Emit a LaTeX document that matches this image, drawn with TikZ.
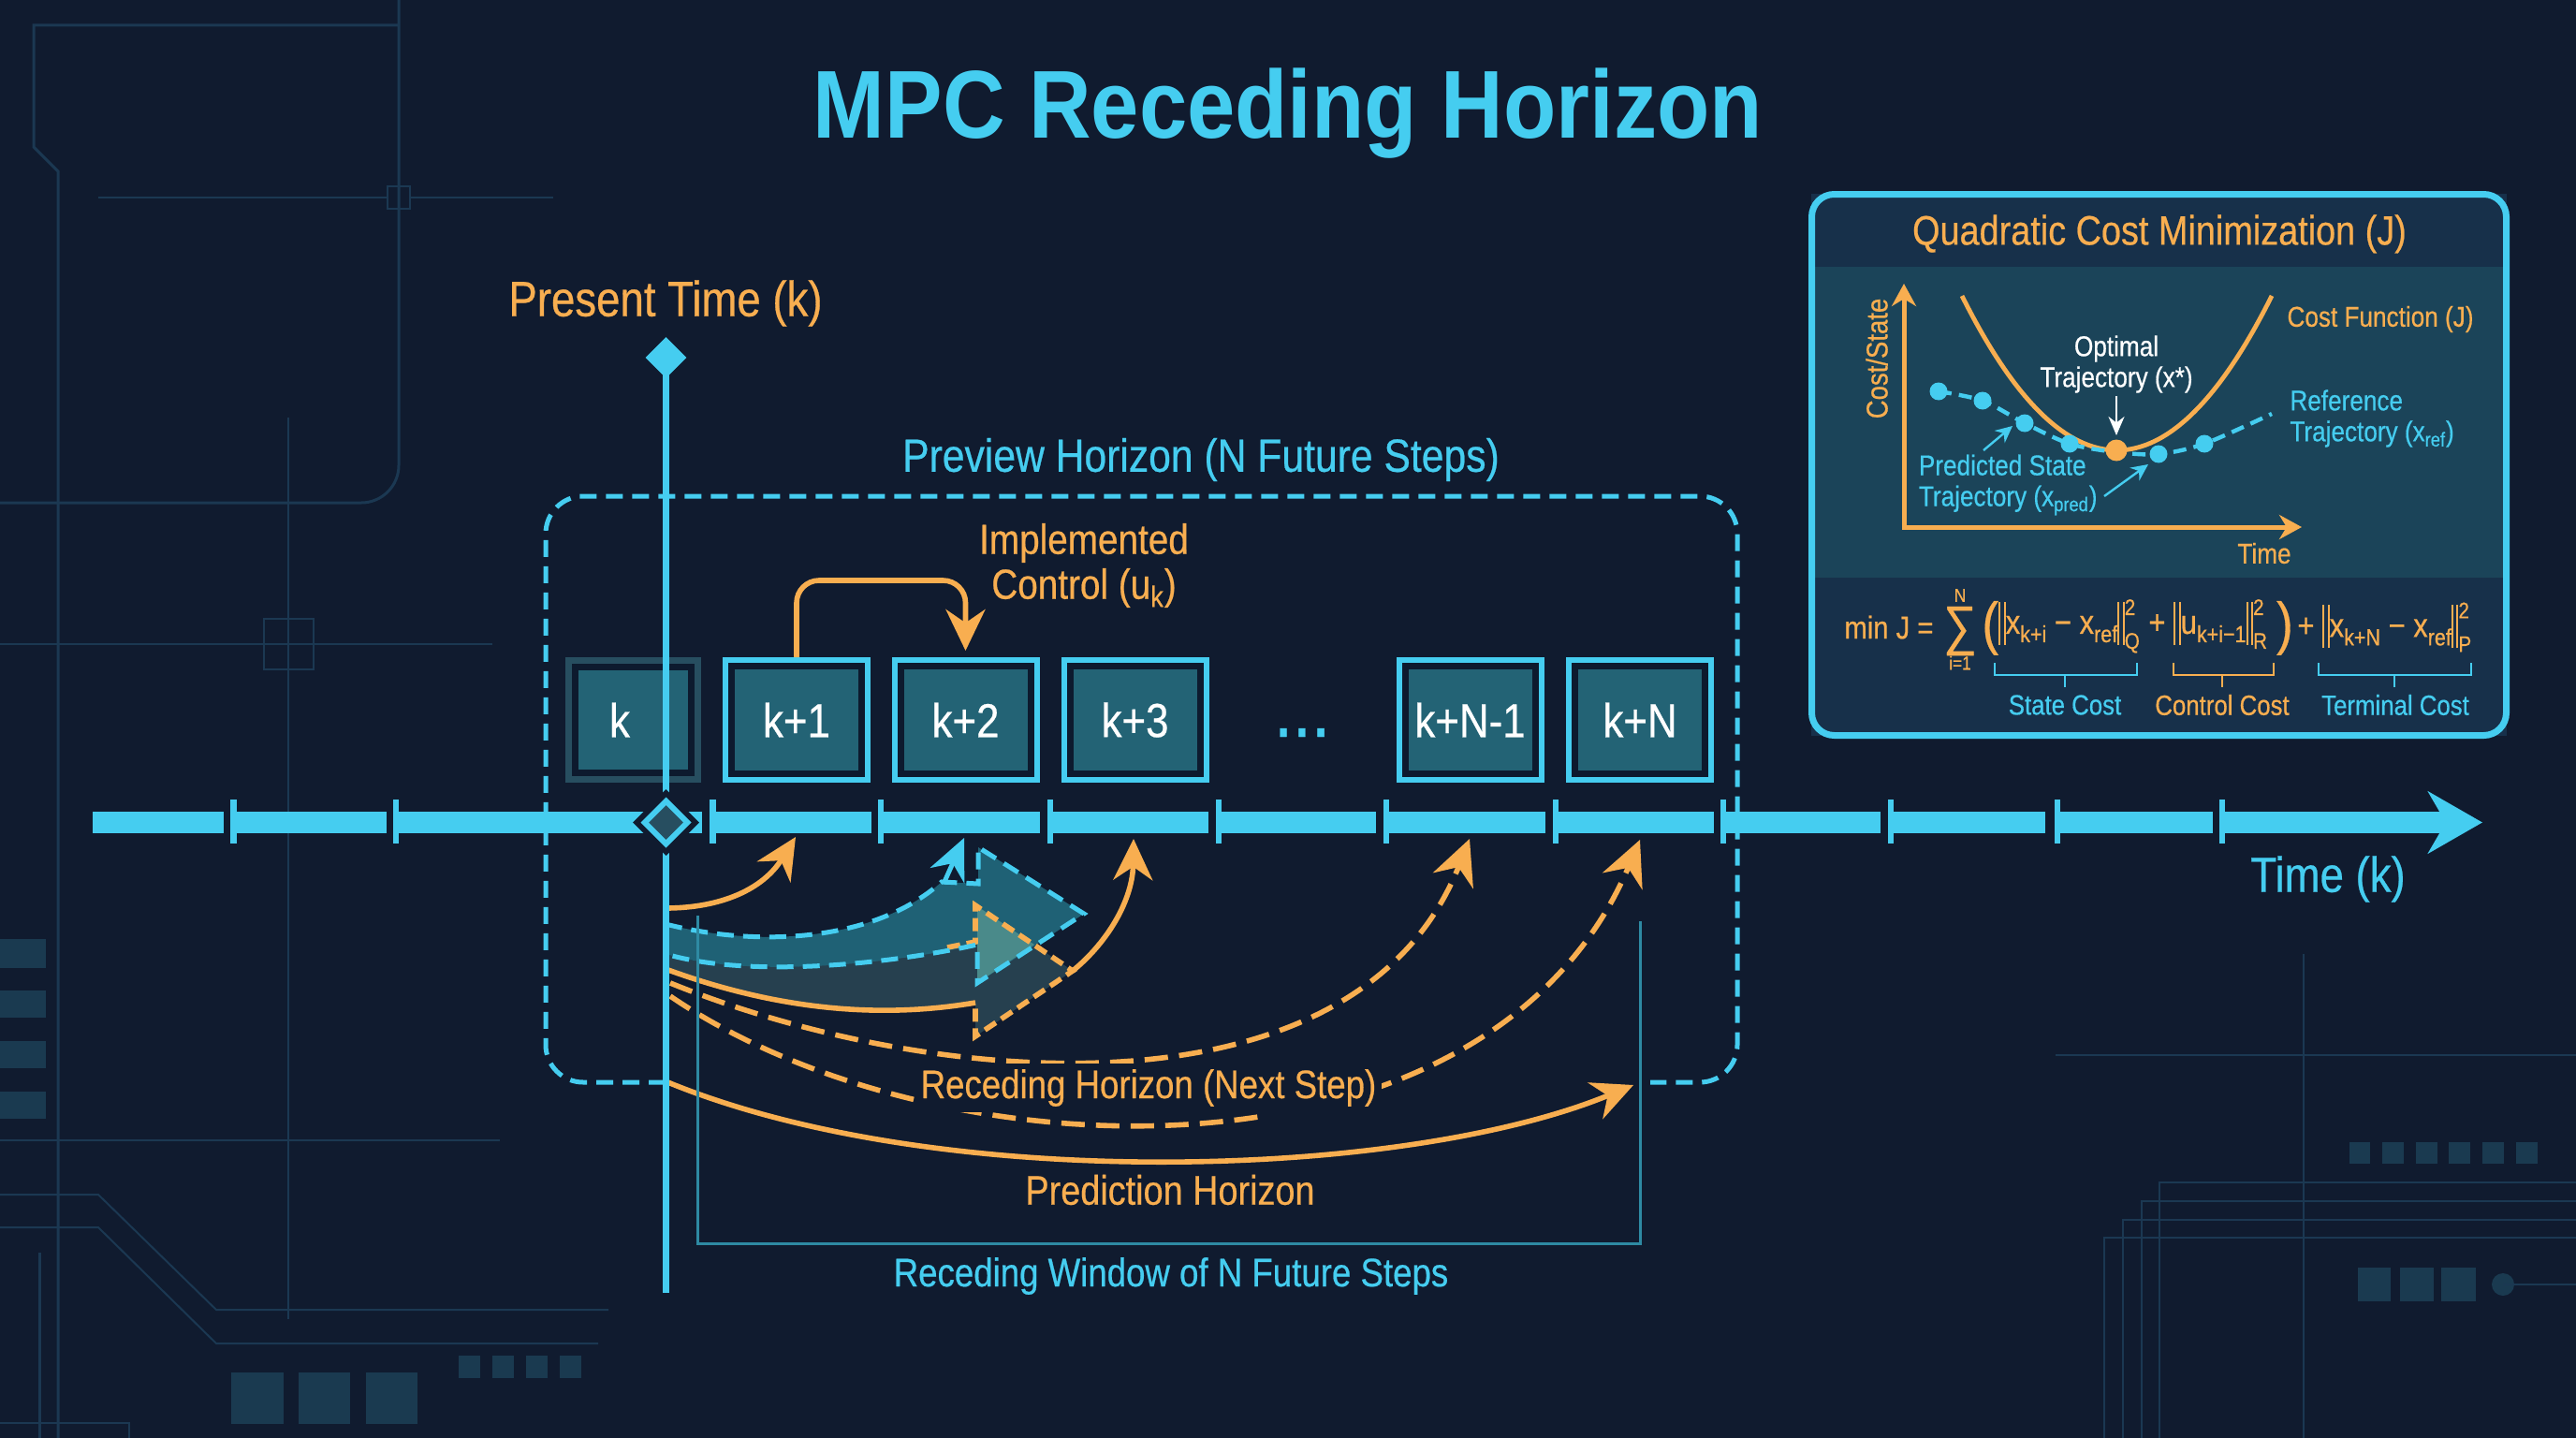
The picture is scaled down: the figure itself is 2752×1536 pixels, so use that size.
\documentclass[tikz,border=0pt]{standalone}
\usepackage{fontspec}
\setmainfont{Liberation Sans}[FakeStretch=0.86,FakeBold=0.5]
\newfontfamily\titlefont{Liberation Sans}[FakeStretch=0.895,UprightFont=* Bold]
\usetikzlibrary{arrows.meta,shapes.geometric}
\definecolor{bgmain}{HTML}{101B2F}
\definecolor{bgline}{HTML}{1B3852}
\definecolor{bgblock}{HTML}{1A3A50}
\definecolor{ringdark}{HTML}{0D1A2E}
\definecolor{skycyan}{HTML}{45CDF0}
\definecolor{amber}{HTML}{F8AE50}
\definecolor{tealline}{HTML}{2E8AA3}
\definecolor{boxfill}{HTML}{236375}
\definecolor{boxfade}{HTML}{274E60}
\definecolor{panelfill}{HTML}{17304A}
\definecolor{panelband}{HTML}{1B4459}
\definecolor{fatteal}{HTML}{21697D}
\definecolor{fatslate}{HTML}{26404F}
\definecolor{fatmix}{HTML}{4A8A8A}
\newcommand{\fsub}[1]{\raisebox{-4.5pt}{\fontsize{12.5pt}{13pt}\selectfont #1}}
\newcommand{\fbars}{\rule[-6pt]{1.1pt}{23pt}\hspace{1.6pt}\rule[-6pt]{1.1pt}{23pt}}
\newcommand{\fscr}[2]{\rlap{\raisebox{10pt}{\fontsize{12pt}{13pt}\selectfont #1}}\raisebox{-8pt}{\fontsize{12pt}{13pt}\selectfont #2}}
\newcommand{\fparen}[1]{\raisebox{-5pt}{\fontsize{31pt}{31pt}\selectfont #1}}
\tikzset{
  bgpath/.style={draw=bgline,line width=1pt},
  bgblockfill/.style={fill=bgblock},
  timebar/.style={fill=skycyan},
  stepbox/.style={rectangle,minimum width=69.5pt,minimum height=57.5pt,inner sep=0pt,outer sep=4.75pt,
    fill=boxfill,draw=ringdark,line width=3.5pt,text=white,font=\fontsize{25.5pt}{30pt}\selectfont,
    preaction={draw=skycyan,line width=9.5pt}},
  stepboxold/.style={rectangle,minimum width=62pt,minimum height=56.5pt,inner sep=0pt,
    fill=boxfill,draw=ringdark,line width=3.5pt,preaction={draw=boxfade,line width=10.5pt}},
  cyantext/.style={text=skycyan,font=\fontsize{24.8pt}{30pt}\selectfont},
  ambertext/.style={text=amber,font=\fontsize{25pt}{30pt}\selectfont},
  cyansmall/.style={text=skycyan,font=\fontsize{15.2pt}{16.5pt}\selectfont,inner sep=0pt},
  ambersmall/.style={text=amber,font=\fontsize{15.2pt}{16.5pt}\selectfont,inner sep=0pt},
  whitesmall/.style={text=white,font=\fontsize{15.2pt}{16.5pt}\selectfont,inner sep=0pt},
  formula/.style={text=amber,font=\fontsize{18pt}{20pt}\selectfont,inner sep=0pt,anchor=west},
  costdot/.style={circle,fill=skycyan,minimum size=9.5pt,inner sep=0pt},
  amberarrow/.style={draw=amber,line width=2.8pt,-{Stealth[length=22pt,width=21pt]}},
  amberdasharrow/.style={draw=amber,line width=2.8pt,dash pattern=on 12.5pt off 6pt,-{Stealth[length=24pt,width=23pt]}},
  amberdash/.style={draw=amber,line width=2.8pt,dash pattern=on 7pt off 3.5pt},
  cyandash/.style={draw=skycyan,line width=2.5pt,dash pattern=on 9pt off 5pt},
  windowline/.style={draw=tealline,line width=1.5pt},
  thinbracket/.style={line width=1.3pt},
}
\begin{document}
\begin{tikzpicture}[x=0.5pt,y=-0.5pt]
\useasboundingbox (0,0) rectangle (2752,1536);
\fill[bgmain] (0,0) rectangle (2752,1536);
\draw[bgpath,line width=1.5pt] (426,27) -- (36,27) -- (36,157) -- (62,183) -- (62,1536);
\draw[bgpath,line width=1.5pt,rounded corners=20pt] (426,0) -- (426,537) -- (0,537);
\draw[bgpath] (105,211) -- (414,211);
\draw[bgpath] (438,211) -- (591,211);
\draw[bgpath] (414,199) rectangle (438,223);
\draw[bgpath] (308,446) -- (308,1409);
\draw[bgpath] (0,688) -- (526,688);
\draw[bgpath] (282,661) rectangle (335,715);
\draw[bgpath] (0,1218) -- (534,1218);
\draw[bgpath] (0,1276) -- (105,1276) -- (231,1399) -- (650,1399);
\draw[bgpath] (0,1311) -- (105,1311) -- (231,1435) -- (639,1435);
\draw[bgpath,line width=1.5pt] (42,1338) -- (42,1536);
\draw[bgpath] (0,1520) -- (138,1520) -- (138,1536);
\fill[bgblockfill] (0,1003) rectangle (49,1034);
\fill[bgblockfill] (0,1058) rectangle (49,1087);
\fill[bgblockfill] (0,1112) rectangle (49,1141);
\fill[bgblockfill] (0,1166) rectangle (49,1195);
\fill[bgblockfill] (247,1466) rectangle (303,1521);
\fill[bgblockfill] (319,1466) rectangle (374,1521);
\fill[bgblockfill] (391,1466) rectangle (446,1521);
\fill[bgblockfill] (490,1448) rectangle (513,1472);
\fill[bgblockfill] (526,1448) rectangle (549,1472);
\fill[bgblockfill] (562,1448) rectangle (585,1472);
\fill[bgblockfill] (598,1448) rectangle (621,1472);
\draw[bgpath] (2461,1019) -- (2461,1536);
\draw[bgpath] (2196,1127) -- (2752,1127);
\draw[bgpath] (2307,1536) -- (2307,1263) -- (2752,1263);
\draw[bgpath] (2288,1536) -- (2288,1283) -- (2752,1283);
\draw[bgpath] (2268,1536) -- (2268,1303) -- (2752,1303);
\draw[bgpath] (2248,1536) -- (2248,1322) -- (2752,1322);
\fill[bgblockfill] (2510,1220) rectangle (2532,1243);
\fill[bgblockfill] (2545,1220) rectangle (2568,1243);
\fill[bgblockfill] (2581,1220) rectangle (2604,1243);
\fill[bgblockfill] (2616,1220) rectangle (2639,1243);
\fill[bgblockfill] (2652,1220) rectangle (2675,1243);
\fill[bgblockfill] (2688,1220) rectangle (2711,1243);
\fill[bgblockfill] (2519,1354) rectangle (2554,1390);
\fill[bgblockfill] (2564,1354) rectangle (2600,1390);
\fill[bgblockfill] (2608,1354) rectangle (2645,1390);
\fill[bgblockfill] (2674,1372) circle (12);
\draw[bgpath] (2674,1372) -- (2752,1372);

\node (title) at (1376,121) [text=skycyan,font=\titlefont\fontsize{51.5pt}{60pt}\selectfont] {MPC Receding Horizon};
\node (presentlabel) at (711,324) [ambertext,font=\fontsize{26.5pt}{30pt}\selectfont] {Present Time (k)};
\node (previewlabel) at (1283,491) [cyantext] {Preview Horizon (N Future Steps)};
\node (ctrllabel) at (1158,604) [ambertext,align=center,font=\fontsize{22.5pt}{24pt}\selectfont] {Implemented\\Control (u\textsubscript{k})};

\coordinate (pvstart) at (711,1156);
\coordinate (pvtl) at (583,530);
\coordinate (pvbr) at (1856,1156);
\coordinate (pvend) at (1763,1156);
\draw[cyandash,rounded corners=20pt] (pvstart) -| (pvtl) -| (pvbr) -- (pvend);

\node (k0) at (676.5,769) [stepboxold] {};
\node (k1) at (851,769) [stepbox] {k+1};
\node (k2) at (1031.5,769) [stepbox] {k+2};
\node (k3) at (1212.5,769) [stepbox] {k+3};
\node (kdots) at (1391,787) [anchor=base,text=skycyan,font=\fontsize{42pt}{48pt}\selectfont] {...};
\node (kn1) at (1570.5,769) [stepbox] {k+N-1};
\node (kn) at (1752,769) [stepbox] {k+N};
\node (k0text) at (662,769) [text=white,font=\fontsize{25.5pt}{30pt}\selectfont] {k};

\coordinate (ctrltop) at (950,620);
\draw[amberarrow,rounded corners=12pt,shorten >=3.5pt] (k1.north) |- (k2.north |- ctrltop) -- (k2.north);

\fill[timebar] (99,867) rectangle (239,890);
\fill[timebar] (246,854) rectangle (253,901);
\fill[timebar] (253,867) rectangle (413,890);
\fill[timebar] (420,854) rectangle (426,901);
\fill[timebar] (426,867) rectangle (700,890);
\fill[timebar] (725,867) rectangle (750,890);
\fill[timebar] (758,854) rectangle (765,901);
\fill[timebar] (765,867) rectangle (931,890);
\fill[timebar] (938,854) rectangle (944,901);
\fill[timebar] (944,867) rectangle (1111,890);
\fill[timebar] (1119,854) rectangle (1125,901);
\fill[timebar] (1125,867) rectangle (1291,890);
\fill[timebar] (1299,854) rectangle (1305,901);
\fill[timebar] (1305,867) rectangle (1470,890);
\fill[timebar] (1478,854) rectangle (1484,901);
\fill[timebar] (1484,867) rectangle (1651,890);
\fill[timebar] (1659,854) rectangle (1665,901);
\fill[timebar] (1665,867) rectangle (1831,890);
\fill[timebar] (1838,854) rectangle (1844,901);
\fill[timebar] (1844,867) rectangle (2009,890);
\fill[timebar] (2017,854) rectangle (2023,901);
\fill[timebar] (2023,867) rectangle (2185,890);
\fill[timebar] (2195,854) rectangle (2201,901);
\fill[timebar] (2201,867) rectangle (2364,890);
\fill[timebar] (2371,854) rectangle (2377,901);
\coordinate (timestart) at (2377,878.5);
\coordinate (timeend) at (2652,878.5);
\draw[draw=skycyan,line width=11.5pt,-{Stealth[length=29pt,width=33pt]}] (timestart) -- (timeend);
\node (timelabel) at (2487,939) [text=skycyan,font=\fontsize{26.5pt}{30pt}\selectfont] {Time (k)};

\fill[fatslate] (711,1019) .. controls (800,1045) and (950,1030) .. (1042,1006) -- (1042,967) -- (1146,1037) -- (1042,1107) -- (1042,1071) .. controls (930,1090) and (820,1075) .. (711,1035) -- cycle;
\fill[fatteal,opacity=0.9] (711,987) .. controls (800,1010) and (930,1010) .. (1006,942) -- (1045,944) -- (1045,905) -- (1158,976) -- (1044,1050) -- (1044,1009) .. controls (950,1030) and (800,1045) .. (711,1019) -- cycle;
\fill[fatmix] (1044,968) -- (1105,1009) -- (1044,1050) -- cycle;
\draw[amberdash] (1012,1012) -- (1042,1006) -- (1042,967) -- (1146,1037) -- (1042,1107) -- (1042,1071);
\draw[draw=amber,line width=2.8pt] (1042,1071) .. controls (930,1090) and (820,1075) .. (711,1035);
\draw[cyandash] (711,987) .. controls (800,1010) and (930,1010) .. (1006,942) -- (1045,944) -- (1045,905) -- (1158,976) -- (1044,1050) -- (1044,1009) .. controls (950,1030) and (800,1045) .. (711,1019);

\coordinate (arrowk1s) at (711,970);
\coordinate (arrowk1e) at (850,894);
\coordinate (arrowk2s) at (1008,944);
\coordinate (arrowk2e) at (1030,895);
\coordinate (arrowk3s) at (1146,1037);
\coordinate (arrowk3e) at (1211,896);
\coordinate (arrowkn1s) at (716,1050);
\coordinate (arrowkn1e) at (1570,896);
\coordinate (arrowkns) at (716,1064);
\coordinate (arrowkne) at (1752,897);
\coordinate (predicts) at (711,1155);
\coordinate (predicte) at (1745,1159);
\draw[amberarrow] (arrowk1s) .. controls (770,970) and (815,950) .. (arrowk1e);
\draw[draw=skycyan,line width=2.5pt,-{Stealth[length=22pt,width=20pt]}] (arrowk2s) -- (arrowk2e);
\draw[amberarrow] (arrowk3s) .. controls (1185,1005) and (1210,960) .. (arrowk3e);
\draw[amberdasharrow] (arrowkn1s) .. controls (1000,1165) and (1450,1200) .. (arrowkn1e);
\draw[amberdasharrow] (arrowkns) .. controls (1000,1258) and (1590,1280) .. (arrowkne);
\fill[bgmain] (1350,1180) rectangle (1480,1220);
\draw[amberarrow] (predicts) .. controls (1000,1275) and (1500,1260) .. (predicte);

\coordinate (windowl) at (745,978);
\coordinate (windowr) at (1752,984);
\coordinate (windowb) at (1000,1328);
\draw[windowline] (windowl) |- (windowb) -| (windowr);

\node (recedlabel) at (1227,1162) [ambertext,fill=bgmain,inner sep=3pt,font=\fontsize{21.3pt}{26pt}\selectfont] {Receding Horizon (Next Step)};
\node (predlabel) at (1250,1271) [ambertext,font=\fontsize{22pt}{26pt}\selectfont] {Prediction Horizon};
\node (windowlabel) at (1251,1363) [cyantext,font=\fontsize{21.3pt}{26pt}\selectfont] {Receding Window of N Future Steps};

\coordinate (nowtop) at (711.5,382);
\coordinate (nowbottom) at (711.5,1381);
\draw[draw=skycyan,line width=3.5pt] (nowtop) -- (nowbottom);
\node (nowtopmark) at (nowtop) [diamond,fill=skycyan,minimum width=22pt,minimum height=22pt,inner sep=0pt] {};
\node (nowmark) at (711.5,878.5) [diamond,fill=boxfade,draw=skycyan,line width=3pt,minimum width=24pt,minimum height=24pt,inner sep=0pt,preaction={draw=bgmain,line width=9pt}] {};

\fill[panelfill] (1935,207) rectangle (2678,786);
\fill[panelband] (1938,285) rectangle (2675,617);
\draw[draw=skycyan,line width=3.5pt,rounded corners=12pt] (1935.5,207.5) rectangle (2677.5,785.5);
\node (costtitle) at (2307,250) [ambertext,font=\fontsize{22pt}{26pt}\selectfont] {Quadratic Cost Minimization (J)};

\coordinate (axisorigin) at (2034,563);
\coordinate (axistop) at (2034,303);
\coordinate (axisright) at (2459,563);
\draw[draw=amber,line width=2.5pt,{Stealth[length=12pt,width=13pt]}-{Stealth[length=12pt,width=13pt]}] (axistop) -- (axisorigin) -- (axisright);
\node (axisylabel) at (2005,383) [ambersmall,font=\fontsize{16pt}{18pt}\selectfont,rotate=90] {Cost/State};
\node (axisxlabel) at (2419,591) [ambersmall] {Time};

\draw[draw=amber,line width=2.4pt] (2096,316) .. controls (2206,536) and (2317,536) .. (2427,316);
\node (d1) at (2071,418) [costdot] {};
\node (d2) at (2118,428) [costdot] {};
\node (d3) at (2163,452) [costdot] {};
\node (d4) at (2211,474) [costdot] {};
\node (d5) at (2306,485) [costdot] {};
\node (d6) at (2355,474) [costdot] {};
\coordinate (dend) at (2427,442);
\draw[draw=skycyan,line width=2.2pt,dash pattern=on 7pt off 4pt] plot[smooth] coordinates {(d1) (d2) (d3) (d4) (2261,483) (d5) (d6) (dend)};
\node (optdot) at (2261,481) [circle,fill=amber,minimum size=11.5pt,inner sep=0pt] {};

\node (optlabel) at (2261,389) [whitesmall,align=center] {Optimal\\Trajectory (x*)};
\coordinate (opttail) at (2261,423);
\coordinate (opttip) at (2261,465);
\draw[draw=white,line width=1pt,-{Stealth[length=10pt,width=8.5pt]}] (opttail) -- (opttip);
\node (costlabel) at (2543,341) [ambersmall] {Cost Function (J)};
\node (reflabel) at (2446,447) [cyansmall,anchor=west,align=left] {Reference\\Trajectory (x\textsubscript{ref})};
\node (predstate) at (2049.5,518) [cyansmall,anchor=west,align=left] {Predicted State\\Trajectory (x\textsubscript{pred})};
\coordinate (p1tail) at (2119,481);
\coordinate (p1tip) at (2150,455);
\coordinate (p2tail) at (2248,530);
\coordinate (p2tip) at (2295,496);
\draw[draw=skycyan,line width=1.2pt,-{Stealth[length=9pt,width=8.5pt]}] (p1tail) -- (p1tip);
\draw[draw=skycyan,line width=1.2pt,-{Stealth[length=9pt,width=8.5pt]}] (p2tail) -- (p2tip);

\node (fmin) at (1970,670) [formula,font=\fontsize{17pt}{20pt}\selectfont] {min J =};
\node (fsum) at (2094,674) [text=amber,inner sep=0pt,font=\fontsize{29pt}{30pt}\selectfont] {∑};
\node (fsumtop) at (2094,636) [ambersmall,font=\fontsize{10pt}{12pt}\selectfont] {N};
\node (fsumbot) at (2094,708) [ambersmall,font=\fontsize{10pt}{12pt}\selectfont] {i=1};
\node (fstate) at (2117,670) [formula] {\fparen{(}\fbars x\fsub{k+i} − x\fsub{ref}\fbars\fscr{2}{Q}};
\node (fcontrol) at (2295,670) [formula] {+ \fbars u\fsub{k+i−1}\fbars\fscr{2}{R}\hspace{5pt}\fparen{)}};
\node (fterm) at (2454,670) [formula] {+ \fbars x\fsub{k+N} − x\fsub{ref}\fbars\fscr{2}{P}};

\coordinate (bs1) at (2131,708);
\coordinate (bs2) at (2283,708);
\coordinate (bc1) at (2322,708);
\coordinate (bc2) at (2429,708);
\coordinate (bt1) at (2477,708);
\coordinate (bt2) at (2640,708);
\node (statecost) at (2206,753) [cyansmall,font=\fontsize{15pt}{18pt}\selectfont] {State Cost};
\node (controlcost) at (2374,753) [ambersmall,font=\fontsize{15pt}{18pt}\selectfont] {Control Cost};
\node (termcost) at (2559,753) [cyansmall,font=\fontsize{15pt}{18pt}\selectfont] {Terminal Cost};
\draw[thinbracket,draw=skycyan] (bs1) -- (2131,721) -- (2283,721) -- (bs2);
\draw[thinbracket,draw=skycyan] (2206,721) -- (2206,734);
\draw[thinbracket,draw=amber] (bc1) -- (2322,721) -- (2429,721) -- (bc2);
\draw[thinbracket,draw=amber] (2374,721) -- (2374,734);
\draw[thinbracket,draw=skycyan] (bt1) -- (2477,721) -- (2640,721) -- (bt2);
\draw[thinbracket,draw=skycyan] (2558,721) -- (2558,734);
\end{tikzpicture}
\end{document}
